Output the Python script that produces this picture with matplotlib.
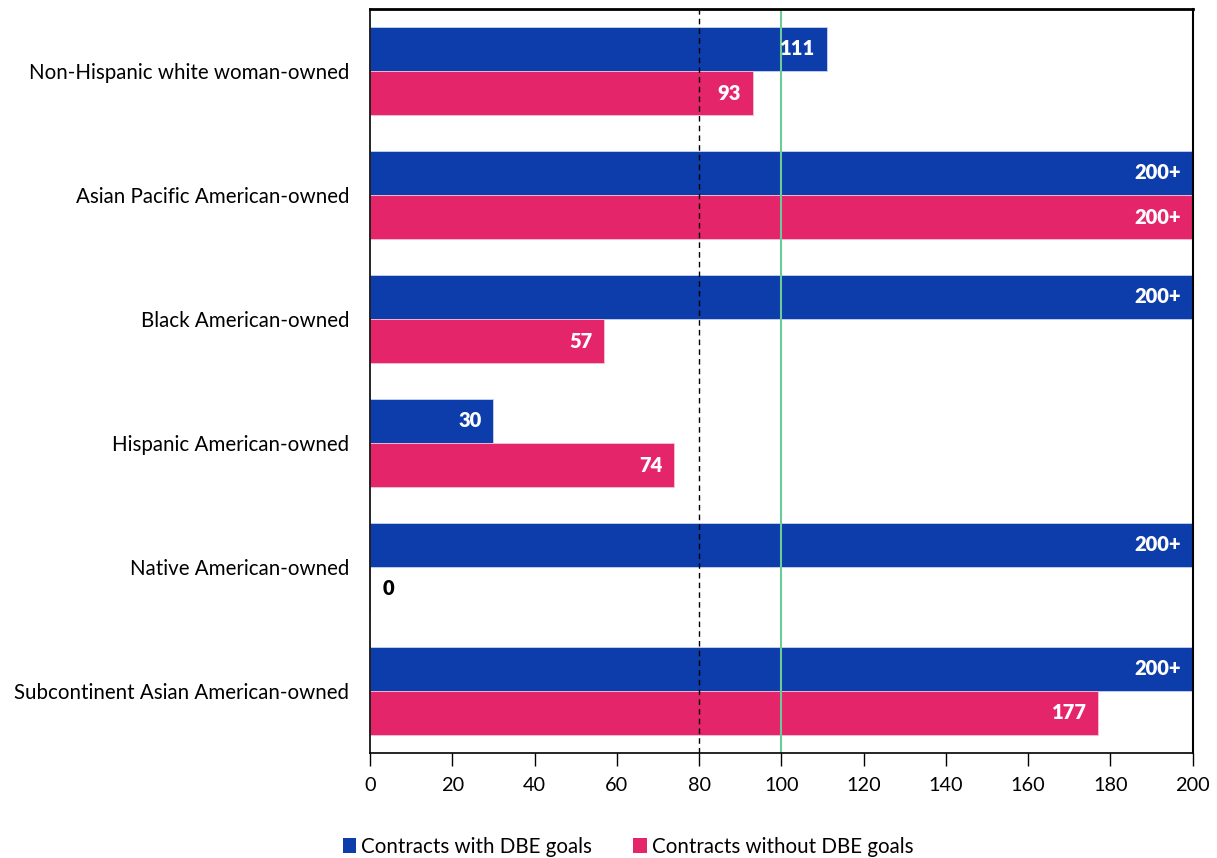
import numpy as np
import matplotlib.pyplot as plt
from matplotlib.patches import Patch

plt.rcParams['font.family'] = ['Lato', 'DejaVu Sans']

groups = ["Non-Hispanic white woman-owned", "Asian Pacific American-owned",
          "Black American-owned", "Hispanic American-owned",
          "Native American-owned", "Subcontinent Asian American-owned"]
with_goals = [111, 200, 200, 30, 200, 200]
with_labels = ["111", "200+", "200+", "30", "200+", "200+"]
without_goals = [93, 200, 57, 74, 0, 177]
without_labels = ["93", "200+", "57", "74", "0", "177"]

blue = "#0D3DAA"
pink = "#E4256A"

fig = plt.figure(figsize=(12.17, 8.58), dpi=100)
ax = fig.add_axes([0.304, 0.1224, 0.676, 0.8671])

y = np.arange(len(groups))
h = 0.355
b1 = ax.barh(y - h / 2, with_goals, height=h, color=blue, edgecolor="#c9d3ee", linewidth=0.6)
b2 = ax.barh(y + h / 2, without_goals, height=h, color=pink, edgecolor="#f5c3d4", linewidth=0.6)

for bars, labels in ((b1, with_labels), (b2, without_labels)):
    for bar, lab in zip(bars, labels):
        w = bar.get_width()
        yc = bar.get_y() + bar.get_height() / 2
        if w > 10:
            ax.text(w - 2.8, yc, lab, ha="right", va="center", color="white",
                    fontsize=14.5, fontweight="heavy")
        else:
            ax.text(w + 3, yc, lab, ha="left", va="center", color="black",
                    fontsize=14.5, fontweight="heavy")

# reference lines
ax.axvline(80, color="black", linestyle=(0, (4, 3)), linewidth=1)
ax.axvline(100, color="#6CCB97", linewidth=1.5)

ax.set_xlim(0, 200)
ax.set_ylim(len(groups) - 0.5, -0.5)
ax.set_xticks(np.arange(0, 201, 20))
ax.set_yticks(y)
ax.set_yticklabels(groups, fontsize=14.8)
ax.tick_params(axis="y", length=0, pad=15)
ax.tick_params(axis="x", direction="out", length=9, width=1, labelsize=14.3, pad=8)
for s in ax.spines.values():
    s.set_color("black")
    s.set_linewidth(1.2)
ax.spines["top"].set_linewidth(2)
ax.spines["right"].set_linewidth(1.5)

handles = [Patch(facecolor=blue, label="Contracts with DBE goals"),
           Patch(facecolor=pink, label="Contracts without DBE goals")]
fig.legend(handles=handles, loc="center", bbox_to_anchor=(0.516, 0.013), ncol=2,
           frameon=False, fontsize=14.8, handlelength=0.65, handleheight=0.7,
           handletextpad=0.25, columnspacing=2.0)

fig.savefig("out.png", dpi=100)
